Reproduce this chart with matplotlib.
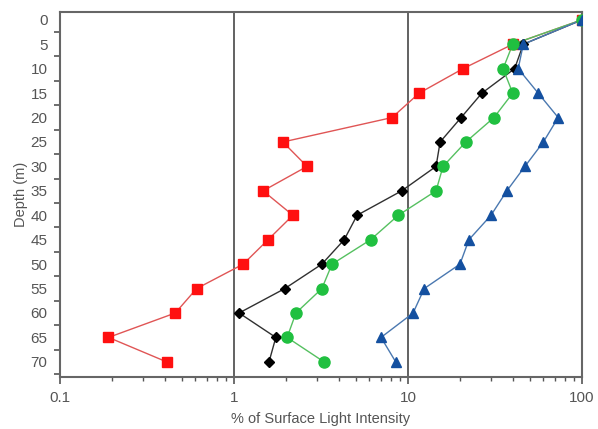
import numpy as np
import matplotlib
matplotlib.use("Agg")
from matplotlib import pyplot as plt
from matplotlib.ticker import LogLocator, NullFormatter

plt.rcParams['font.family'] = ['Liberation Sans', 'DejaVu Sans']

depth = [0, 5, 10, 15, 20, 25, 30, 35, 40, 45, 50, 55, 60, 65, 70]
red_sq = [100, 40, 20.7, 11.6, 8.1, 1.91, 2.63, 1.47, 2.18, 1.57, 1.13, 0.61, 0.46, 0.19, 0.41]
black_dm = [100, 46, 41, 26.6, 20.2, 15.3, 14.5, 9.2, 5.1, 4.3, 3.2, 1.96, 1.07, 1.74, 1.59]
green_ci = [100, 40, 35.2, 40, 31.2, 21.5, 15.9, 14.5, 8.8, 6.1, 3.66, 3.2, 2.27, 2.02, 3.29]
blue_tr = [100, 46, 43, 56, 73, 60, 47, 37, 30, 22.4, 19.9, 12.4, 10.7, 7.0, 8.5]

x_ticks = [0.1, 1, 10, 100]
x_labels = ["0.1", "1", "10", "100"]
y_ticks = list(range(0, 71, 5))

fig = plt.figure(figsize=(5.98, 4.29), dpi=100)
ax = fig.add_axes([0.1003, 0.1212, 0.8729, 0.8508])

# series: (values, line colour, marker colour, marker, size)
series = [
    (red_sq, "#e05555", "#ff1010", "s", 7.5),
    (black_dm, "#303030", "#000000", "D", 5.0),
    (green_ci, "#55c060", "#20c040", "o", 8.0),
    (blue_tr, "#4a78b0", "#1450a0", "^", 7.5),
]
for vals, lc, mc, m, ms in series:
    ax.plot(vals, depth, color=lc, lw=1.0, zorder=3)
    ax.plot(vals, depth, ls="none", marker=m, ms=ms, color=mc, mec=mc, zorder=4)

ax.set_xscale("log")
ax.set_xlim(0.1, 100)
ax.set_ylim(73.1, -1.6)

for v in [1, 10]:
    ax.axvline(v, color="#555555", lw=1.3, zorder=2)

ax.set_xticks(x_ticks)
ax.set_xticklabels(x_labels)
ax.xaxis.set_minor_locator(LogLocator(base=10, subs=np.arange(2, 10)))
ax.xaxis.set_minor_formatter(NullFormatter())
ax.tick_params(axis="x", which="major", length=5, width=1.2, color="#555555",
               labelsize=11, labelcolor="#555555", pad=5)
ax.tick_params(axis="x", which="minor", length=3, width=1.0, color="#555555")

ax.set_yticks(y_ticks)
ax.set_yticks(np.arange(2.5, 73, 5), minor=True)
ax.yaxis.set_minor_formatter(NullFormatter())
ax.tick_params(axis="y", which="major", length=0, labelsize=11, labelcolor="#555555", pad=9)
ax.tick_params(axis="y", which="minor", length=4, width=1.2, color="#555555")

for s in ax.spines.values():
    s.set_color("#666666")
    s.set_linewidth(1.5)

ax.set_xlabel("% of Surface Light Intensity", fontsize=10.5, color="#555555", labelpad=5)
ax.set_ylabel("Depth (m)", fontsize=10.5, color="#555555", labelpad=2)

fig.savefig("out.png", dpi=100)
